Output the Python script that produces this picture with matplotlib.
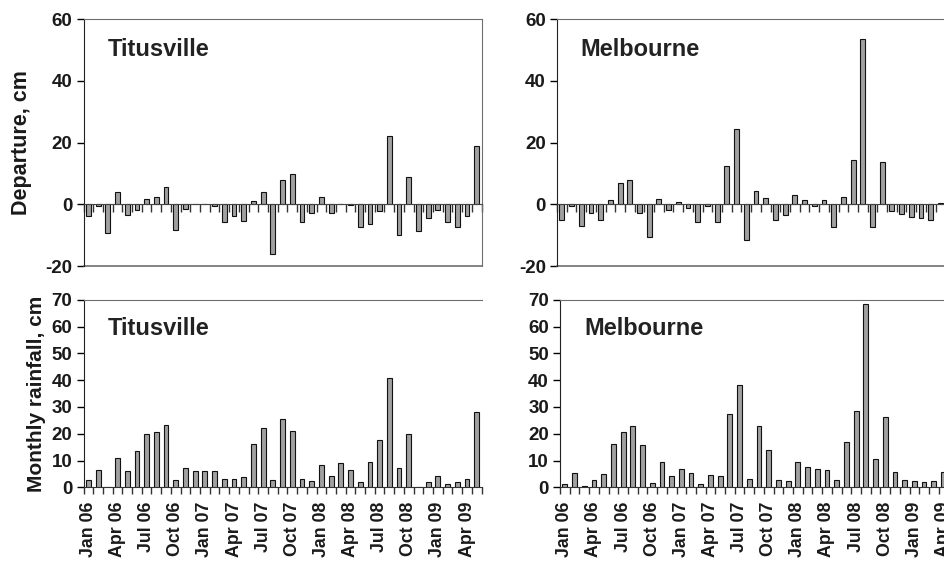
import numpy as np
import matplotlib
matplotlib.use('Agg')
import matplotlib.pyplot as plt

plt.rcParams['font.family'] = ['Liberation Sans', 'DejaVu Sans']
plt.rcParams['font.weight'] = 'bold'
plt.rcParams['axes.unicode_minus'] = False

# months Jan 06 .. May 09
mon = ['Jan', 'Feb', 'Mar', 'Apr', 'May', 'Jun', 'Jul', 'Aug', 'Sep', 'Oct', 'Nov', 'Dec']
months = [m + ' ' + y for y in ['06', '07', '08', '09'] for m in mon][:41]

# departure from normal, cm
tit_dep = [-3.8, -0.7, -9.2, 4.1, -3.5, -1.8, 1.8, 2.2, 5.7, -8.3, -1.5, 0.0,
           0.0, -0.5, -5.9, -3.8, -5.3, 0.9, 4.1, -16.1, 8.0, 9.9, -5.6, -2.7,
           2.2, -2.7, 0.0, -0.3, -7.2, -6.4, -2.2, 22.2, -9.8, 8.9, -8.5, -4.6,
           -1.8, -5.6, -7.2, -3.8, 19.0]
mel_dep = [-5.1, -0.7, -6.9, -2.7, -5.1, 1.3, 7.0, 8.0, -2.7, -10.5, 1.6, -1.8,
           0.6, -1.2, -5.9, -0.5, -5.6, 12.5, 24.5, -11.5, 4.4, 1.9, -5.1, -3.5,
           3.1, 1.3, -0.4, 1.3, -7.2, 2.2, 14.4, 53.6, -7.5, 13.8, -2.2, -3.1,
           -4.0, -4.3, -5.1, 0.3]

# monthly rainfall, cm
tit_rain = [2.7, 6.5, 0.0, 11.0, 6.1, 13.6, 19.8, 20.5, 23.2, 2.7, 7.2, 6.1,
            6.1, 6.1, 3.1, 3.1, 3.9, 16.2, 22.0, 2.7, 25.4, 20.9, 3.1, 2.4,
            8.3, 4.2, 9.1, 6.5, 2.0, 9.5, 17.6, 40.8, 7.2, 19.8, 0.25, 2.0,
            4.2, 1.2, 2.0, 3.1, 28.3]
mel_rain = [1.4, 5.5, 0.6, 2.9, 5.1, 16.3, 20.6, 22.9, 15.9, 1.7, 9.6, 4.4,
            7.0, 5.5, 1.4, 4.7, 4.4, 27.4, 38.3, 3.2, 22.9, 14.1, 2.9, 2.5,
            9.6, 7.7, 7.0, 6.6, 2.9, 17.0, 28.4, 68.4, 10.7, 26.2, 5.8, 2.9,
            2.5, 2.1, 2.5, 5.8]

fig = plt.figure(figsize=(9.45, 5.61), dpi=100)

W = 0.4212
ax_td = fig.add_axes([0.0884, 0.5258, W, 0.4403])
ax_md = fig.add_axes([0.5894, 0.5258, W, 0.4403])
ax_tr = fig.add_axes([0.0884, 0.1314, W, 0.334])
ax_mr = fig.add_axes([0.5926, 0.1314, W, 0.334])

bar_kw = dict(width=0.5, color='#a0a0a0', edgecolor='#111111', linewidth=0.8, zorder=3)
n = len(months)
gray = '#6e6e6e'

def style(ax, name, ylim, yticks, ty):
    ax.set_xlim(-0.5, n - 0.5)
    ax.set_ylim(*ylim)
    ax.set_yticks(yticks)
    ax.tick_params(axis='y', direction='out', length=5, width=1, labelsize=13.5, pad=3,
                   labelcolor='#1a1a1a')
    ax.spines['left'].set_color('#222222')
    ax.spines['top'].set_color(gray)
    ax.spines['right'].set_color(gray)
    ax.set_xticks(np.arange(n + 1) - 0.5, minor=True)
    ax.tick_params(axis='x', which='minor', direction='out', length=5, width=1, color='#333333')
    ax.text(0.06, ty, name, transform=ax.transAxes, fontsize=17, fontweight='bold',
            color='#222222', va='center', ha='left')

# departure panels
for ax, name, vals in [(ax_td, 'Titusville', tit_dep), (ax_md, 'Melbourne', mel_dep)]:
    ax.bar(np.arange(len(vals)), vals, **bar_kw)
    style(ax, name, (-20, 60), [-20, 0, 20, 40, 60], 0.875)
    ax.spines['bottom'].set_position(('data', 0))
    ax.spines['bottom'].set_color('#444444')
    ax.spines['bottom'].set_zorder(4)
    ax.set_xticks([])
    ax.set_xticks(np.arange(n + 1) - 0.5, minor=True)
    ax.tick_params(axis='x', which='minor', direction='out', length=6, width=1, color='#333333')
    ax.plot([0, 1], [0, 0], transform=ax.transAxes, color=gray, lw=1.2, clip_on=False)

ax_td.set_ylabel('Departure, cm', fontsize=15.5, fontweight='bold', labelpad=10,
                 color='#1a1a1a')

# rainfall panels
for ax, name, vals in [(ax_tr, 'Titusville', tit_rain), (ax_mr, 'Melbourne', mel_rain)]:
    ax.bar(np.arange(len(vals)), vals, **bar_kw)
    style(ax, name, (0, 70), np.arange(0, 71, 10), 0.85)
    ax.spines['bottom'].set_color('#333333')
    ax.set_xticks(np.arange(0, n, 3))
    ax.set_xticklabels(months[::3], rotation=90, fontsize=12.8, fontweight='bold',
                       color='#1a1a1a')
    ax.tick_params(axis='x', which='major', length=0, pad=10)

ax_tr.spines['right'].set_visible(False)
ax_tr.set_ylabel('Monthly rainfall, cm', fontsize=15, fontweight='bold', labelpad=4,
                 color='#1a1a1a')

fig.savefig('out.png', dpi=100)
